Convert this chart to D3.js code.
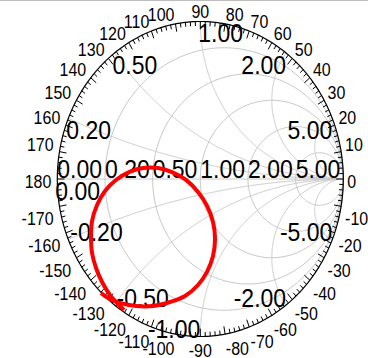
<!DOCTYPE html>
<html><head><meta charset="utf-8">
<script src="https://cdn.jsdelivr.net/npm/d3@7"></script>
<style>html,body{margin:0;padding:0;background:#fff;}svg{display:block;}text{font-family:"Liberation Sans",Arial,sans-serif;}</style>
</head><body>
<svg id="c" width="368" height="358"></svg>
<script>
// ---- data ----
const resistances = [0.2, 0.5, 1, 2, 5];
const reactances = [0.2, 0.5, 1, 2, 5];
const resistanceLabels = ["0.00", "0.20", "0.50", "1.00", "2.00", "5.00"];
const resistanceLabelValues = [0, 0.2, 0.5, 1, 2, 5];
const reactanceLabelValues = [0, 0.2, 0.5, 1, 2, 5, -0.2, -0.5, -1, -2, -5];
const reactanceLabels = ["0.00", "0.20", "0.50", "1.00", "2.00", "5.00", "-0.20", "-0.50", "-1.00", "-2.00", "-5.00"];
const angleLabelValues = [-170,-160,-150,-140,-130,-120,-110,-100,-90,-80,-70,-60,-50,-40,-30,-20,-10,0,10,20,30,40,50,60,70,80,90,100,110,120,130,140,150,160,170,180];
const angleTickStep = 2;
// measured reflection coefficient trace (real, imaginary)
const gammaRe = [-0.534,-0.583,-0.631,-0.687,-0.729,-0.757,-0.764,-0.757,-0.722,-0.666,-0.590,-0.499,-0.400,-0.296,-0.198,-0.100,-0.016,0.047,0.089,0.103,0.089,0.047,-0.016,-0.107,-0.212,-0.331,-0.450,-0.562,-0.645,-0.694];
const gammaIm = [-0.832,-0.787,-0.737,-0.654,-0.565,-0.470,-0.368,-0.267,-0.165,-0.076,-0.006,0.044,0.070,0.070,0.044,-0.006,-0.083,-0.171,-0.273,-0.381,-0.489,-0.590,-0.673,-0.743,-0.781,-0.806,-0.806,-0.787,-0.756,-0.724];

// ---- layout ----
const cx = 200.3, cy = 179, rx = 143, ry = 157.5, sy = 1.1;
const xs = d3.scaleLinear().domain([-1, 1]).range([cx - rx, cx + rx]);
const ys = d3.scaleLinear().domain([-1, 1]).range([cy + ry, cy - ry]);
const svg = d3.select("#c");
const gridColor = "#c8c8c8";

svg.append("line").attr("x1",0).attr("x2",368).attr("y1",0.5).attr("y2",0.5).attr("stroke","#bdbdbd").attr("stroke-width",1);

const line = d3.line().x(d => xs(d[0])).y(d => ys(d[1]));
const grid = svg.append("g").attr("fill","none").attr("stroke",gridColor).attr("stroke-width",1);

// resistance circles
resistances.forEach(r => {
  const c0 = r / (1 + r), rad = 1 / (1 + r);
  const pts = d3.range(0, 361, 2).map(a => [c0 + rad * Math.cos(a * Math.PI / 180), rad * Math.sin(a * Math.PI / 180)]);
  grid.append("path").attr("d", line(pts));
});
// reactance arcs
function gammaOf(r, x) {
  const den = (r + 1) * (r + 1) + x * x;
  return [(r * r - 1 + x * x) / den, 2 * x / den];
}
reactances.forEach(xv => {
  [xv, -xv].forEach(x => {
    const pts = d3.range(0, 400).map(i => gammaOf(Math.tan(i / 400 * Math.PI / 2), x));
    pts.push([1, 0]);
    grid.append("path").attr("d", line(pts));
  });
});
// real axis
grid.append("path").attr("d", line([[-1, 0], [1, 0]]));

// outer boundary
const outer = d3.range(0, 361, 1).map(a => [Math.cos(a * Math.PI / 180), Math.sin(a * Math.PI / 180)]);
svg.append("path").attr("d", line(outer)).attr("fill","none").attr("stroke","#000").attr("stroke-width",1.2);
// angle ticks
const ticks = svg.append("g").attr("stroke","#000").attr("stroke-width",1);
d3.range(-180, 180, angleTickStep).forEach(a => {
  const t = a * Math.PI / 180, len = (a % 10 === 0) ? 0.05 : 0.028;
  ticks.append("path").attr("d", line([[Math.cos(t), Math.sin(t)], [(1 - len) * Math.cos(t), (1 - len) * Math.sin(t)]]));
});
// angle labels
angleLabelValues.forEach(a => {
  const t = a * Math.PI / 180;
  let c = Math.cos(t), s = Math.sin(t);
  if (Math.abs(c) < 1e-9) c = 0;
  if (Math.abs(s) < 1e-9) s = 0;
  let x, anchor;
  if (c > 0) { x = cx + (rx + 4) * c; anchor = "start"; }
  else if (c < 0) { x = cx + (rx + 6) * c; anchor = "end"; }
  else { x = cx; anchor = "middle"; }
  const y = cy + 3 - (ry + 3) * s - 9 * Math.sign(s);
  svg.append("text").attr("transform", `translate(${x},${y}) scale(1,${sy})`)
    .attr("text-anchor", anchor).attr("dominant-baseline","central")
    .attr("font-size", 16).attr("fill","#000").text(String(a));
});

// resistance labels
resistanceLabelValues.forEach((r, i) => {
  const x = xs((r - 1) / (r + 1));
  svg.append("text").attr("transform", `translate(${x},${cy - 1}) scale(1,${sy})`)
    .attr("font-size", 23).attr("fill","#000").text(resistanceLabels[i]);
});
// reactance labels
reactanceLabelValues.forEach((xv, i) => {
  const g = gammaOf(0, xv);
  const re = Math.abs(g[0]) < 1e-9 ? 0 : g[0];
  const upper = xv >= 0;
  const start = upper ? re <= 0 : re < 0;
  const px = xs(g[0]) + (start ? (upper ? -2 : 2) : 0);
  const py = ys(g[1]) + (upper ? 20.5 : 1.5);
  svg.append("text").attr("transform", `translate(${px},${py}) scale(1,${sy})`)
    .attr("text-anchor", start ? "start" : "end")
    .attr("font-size", 23).attr("fill","#000").text(reactanceLabels[i]);
});

// data trace
const trace = gammaRe.map((r, i) => [r, gammaIm[i]]);
svg.append("path").attr("d", d3.line().x(d => xs(d[0])).y(d => ys(d[1])).curve(d3.curveCatmullRom)(trace))
  .attr("fill","none").attr("stroke","#f00").attr("stroke-width",4).attr("stroke-linecap","butt").attr("stroke-linejoin","round");
</script>
</body></html>
